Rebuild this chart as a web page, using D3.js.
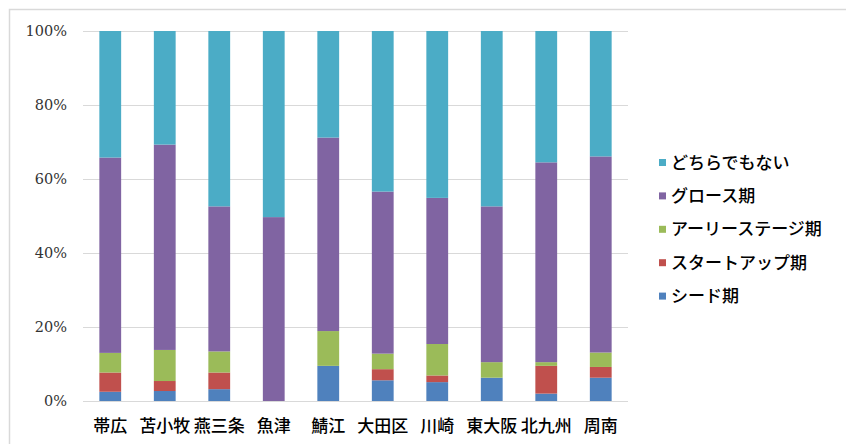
<!DOCTYPE html>
<html>
<head>
<meta charset="utf-8">
<script src="https://cdn.jsdelivr.net/npm/d3@7"></script>
<style>
  html, body { margin: 0; padding: 0; background: #fff; }
  svg { display: block; }
</style>
</head>
<body>
<svg id="chart" width="846" height="444"></svg>
<script>
// Regions surveyed
const categories = ["帯広", "苫小牧", "燕三条", "魚津", "鯖江", "大田区", "川崎", "東大阪", "北九州", "周南"];

// Stage names, bottom of the stack first
const stages = ["シード期", "スタートアップ期", "アーリーステージ期", "グロース期", "どちらでもない"];

// Share of companies in each stage (%), one array per stage
const seed    = [2.5, 2.7, 3.2, 0.0, 9.5, 5.6, 5.1, 6.3, 2.0, 6.3];
const startup = [5.2, 2.7, 4.5, 0.0, 0.0, 3.0, 1.8, 0.0, 7.5, 2.9];
const early   = [5.3, 8.4, 5.7, 0.0, 9.4, 4.2, 8.5, 4.2, 1.0, 3.9];
const growth  = [52.8, 55.5, 39.2, 49.7, 52.3, 43.8, 39.5, 42.1, 54.0, 53.0];
const neither = categories.map((_, i) => 100 - seed[i] - startup[i] - early[i] - growth[i]);

const yTicks = [0, 20, 40, 60, 80, 100];
const colors = ["#4F81BD", "#C0504D", "#9BBB59", "#8064A2", "#4BACC6"];

const seriesValues = [seed, startup, early, growth, neither];
const rows = categories.map((c, i) => {
  const r = { category: c };
  stages.forEach((s, k) => { r[s] = seriesValues[k][i]; });
  return r;
});

const svg = d3.select("#chart");
const plot = { left: 83, right: 628, top: 31, bottom: 401 };

// Outer frame of the chart area
svg.append("rect")
  .attr("x", 9.5).attr("y", 9.5)
  .attr("width", 846).attr("height", 444)
  .attr("fill", "none").attr("stroke", "#d9d9d9").attr("stroke-width", 1.5);

const x = d3.scaleBand().domain(categories).range([plot.left, plot.right]).paddingInner(0.6).paddingOuter(0.3);
const y = d3.scaleLinear().domain([0, 100]).range([plot.bottom, plot.top]);

// Horizontal gridlines
svg.append("g").selectAll("line").data(yTicks).join("line")
  .attr("x1", plot.left).attr("x2", plot.right)
  .attr("y1", d => Math.round(y(d)) + 0.5).attr("y2", d => Math.round(y(d)) + 0.5)
  .attr("stroke", "#d9d9d9").attr("stroke-width", 1);

// Y-axis labels
svg.append("g").selectAll("text").data(yTicks).join("text")
  .attr("x", 67).attr("y", d => y(d))
  .attr("dy", "0.36em")
  .attr("text-anchor", "end")
  .attr("font-family", "'DejaVu Serif', 'Liberation Serif', serif")
  .attr("font-size", 14.5)
  .attr("fill", "#333")
  .text(d => d + "%");

// Stacked bars
const stack = d3.stack().keys(stages)(rows);
svg.append("g").selectAll("g").data(stack).join("g")
  .attr("fill", (d, i) => colors[i])
  .selectAll("rect").data(d => d).join("rect")
  .attr("x", d => x(d.data.category))
  .attr("width", x.bandwidth())
  .attr("y", d => y(d[1]))
  .attr("height", d => Math.max(0, y(d[0]) - y(d[1])));

// Category labels
svg.append("g").selectAll("text").data(categories).join("text")
  .attr("x", d => x(d) + x.bandwidth() / 2)
  .attr("y", 432)
  .attr("text-anchor", "middle")
  .attr("font-family", "'Noto Sans CJK JP', sans-serif")
  .attr("font-weight", 500)
  .attr("font-size", 17)
  .attr("fill", "#000")
  .text(d => d);

// Legend, top entry is the top of the stack
const legendItems = stages.slice().reverse();
const legendColors = colors.slice().reverse();
const lg = svg.append("g").selectAll("g").data(legendItems).join("g")
  .attr("transform", (d, i) => `translate(659, ${162.5 + i * 33.4})`);
lg.append("rect")
  .attr("x", 0).attr("y", -3.5).attr("width", 7).attr("height", 7)
  .attr("fill", (d, i) => legendColors[i]);
lg.append("text")
  .attr("x", 12).attr("y", 0).attr("dy", "0.36em")
  .attr("font-family", "'Noto Sans CJK JP', sans-serif")
  .attr("font-weight", 500)
  .attr("font-size", 17)
  .attr("fill", "#000")
  .text(d => d);
</script>
</body>
</html>
